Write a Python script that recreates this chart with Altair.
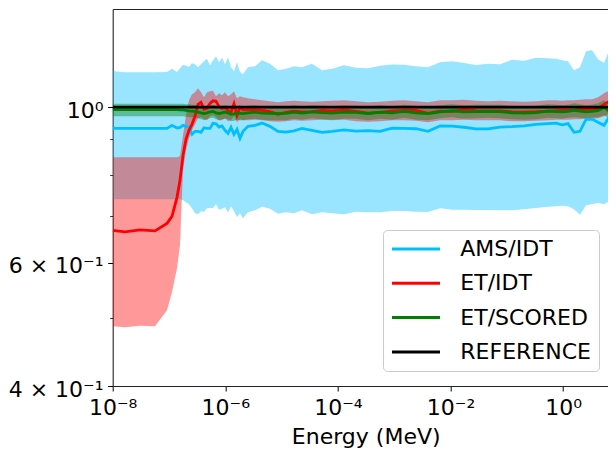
import altair as alt
import pandas as pd

FONT = "DejaVu Sans"

# Energy grid (MeV)
energy_mev = [1.00e-8, 1.654e-8, 3.054e-8, 5.64e-8, 9.21e-8, 1.130e-7, 1.387e-7,
              1.568e-7, 1.773e-7, 2.004e-7, 2.265e-7, 2.562e-7, 2.896e-7, 3.274e-7, 3.701e-7,
              4.184e-7, 4.732e-7, 5.348e-7, 6.046e-7, 6.836e-7, 7.729e-7, 8.738e-7, 9.879e-7,
              1.117e-6, 1.263e-6, 1.427e-6, 1.614e-6, 1.824e-6, 2.063e-6,
              2.530e-6, 3.370e-6, 4.486e-6, 6.223e-6, 8.631e-6, 1.197e-5, 1.661e-5, 2.304e-5,
              3.467e-5, 5.219e-5, 7.856e-5,
              1.283e-4, 2.097e-4, 3.424e-4, 5.596e-4, 9.140e-4, 1.493e-3, 2.439e-3, 3.984e-3,
              6.509e-3, 1.063e-2, 1.737e-2, 2.837e-2, 4.636e-2, 7.570e-2, 0.1237, 0.2020,
              0.3302, 0.5394,
              0.7480,
              0.956, 1.222, 1.562, 1.996, 2.551, 3.261, 4.168, 5.327, 6.808, 9.07]

# AMS/IDT
ams_idt = [0.9324, 0.9324, 0.9324, 0.9324, 0.9324, 0.9417, 0.9333,
           0.9355, 0.9417, 0.9386, 0.9364, 0.9142, 0.9233, 0.9233, 0.9203, 0.9340, 0.9324,
           0.9324, 0.9479, 0.9463, 0.9364, 0.9401, 0.9263, 0.9172, 0.9355, 0.9142, 0.9294,
           0.9023, 0.9233,
           0.9386, 0.9417, 0.9488, 0.9386, 0.9233, 0.9212, 0.9248, 0.9324,
           0.9263, 0.9203, 0.9233,
           0.9278, 0.9242, 0.9254, 0.9233, 0.9330, 0.9324, 0.9312, 0.9233, 0.9401, 0.9392,
           0.9358, 0.9309, 0.9309, 0.9364, 0.9377, 0.9401, 0.9448, 0.9469,
           0.9485,
           0.9432, 0.9469, 0.9203, 0.9233, 0.9604, 0.9613, 0.9510, 0.9417, 0.9731, 0.9263]
ams_idt_lo = [0.7385, 0.7385, 0.7385, 0.7385, 0.7385, 0.7385, 0.7385,
              0.7385, 0.7360, 0.7312, 0.7265, 0.7170, 0.7053, 0.7030, 0.7100, 0.7088, 0.7170,
              0.7181, 0.7170, 0.7265, 0.7139, 0.7162, 0.7193, 0.7076, 0.7217, 0.7100, 0.6968,
              0.7053, 0.6938,
              0.7076, 0.7123, 0.7205, 0.7158, 0.7041, 0.7076, 0.7053, 0.7123,
              0.7030, 0.7076, 0.7053,
              0.7030, 0.7088, 0.7076, 0.7076, 0.7107, 0.7107, 0.7088, 0.7083, 0.7170, 0.7134,
              0.7134, 0.7132, 0.7128, 0.7123, 0.7123, 0.7151, 0.7179, 0.7205,
              0.7221,
              0.7233, 0.7217, 0.7146, 0.7018, 0.7241, 0.7265, 0.7300, 0.7265, 0.7360, 0.6454]
ams_idt_hi = [1.1255, 1.1207, 1.1207, 1.1215, 1.1218, 1.1344, 1.1218,
              1.1356, 1.1487, 1.1449, 1.1412, 1.1543, 1.1506, 1.1393, 1.1506, 1.1620, 1.1723,
              1.1468, 1.1658, 1.1812, 1.1582, 1.1754, 1.1506, 1.1773, 1.1393, 1.1244, 1.1582,
              1.1218, 1.1134,
              1.1393, 1.1430, 1.1658, 1.1525, 1.1281, 1.1344, 1.1430, 1.1393,
              1.1525, 1.1281, 1.1344,
              1.1468, 1.1382, 1.1363, 1.1449, 1.1502, 1.1494, 1.1430, 1.1393, 1.1582, 1.1620,
              1.1555, 1.1483, 1.1525, 1.1513, 1.1677, 1.1639, 1.1754, 1.1735,
              1.1723,
              1.1658, 1.1620, 1.1281, 1.1393, 1.2008, 1.2047, 1.1696, 1.1555, 1.2126, 1.2519]

# ET/IDT
et_idt = [0.6670, 0.6637, 0.6681, 0.6659, 0.6825, 0.6984, 0.7433,
          0.7860, 0.8533, 0.8993, 0.9263, 0.9448, 0.9699, 1.0089, 1.0156, 0.9925, 0.9957,
          1.0122, 1.0206, 1.0189, 1.0023, 0.9957, 0.9990, 0.9892, 0.9827, 1.0106, 0.9731,
          0.9990, 0.9908,
          0.9908, 0.9908, 0.9892, 0.9850, 0.9763, 0.9827, 0.9866, 0.9844,
          0.9853, 0.9889, 0.9873,
          0.9905, 0.9860, 0.9802, 0.9827, 0.9876, 0.9892, 0.9892, 0.9795, 0.9869, 0.9860,
          0.9912, 0.9882, 0.9876, 0.9876, 0.9844, 0.9837, 0.9847, 0.9869,
          0.9882,
          0.9889, 0.9892, 0.9899, 0.9912, 0.9925, 0.9935, 0.9948, 1.0089, 1.0206, 0.9957]
et_idt_lo = [0.4866, 0.4850, 0.4874, 0.4866, 0.5128, 0.5441, 0.5887,
             0.6349, 0.8123, 0.8674, 0.9023, 0.9263, 0.9448, 0.9636, 0.9667, 0.9604, 0.9573,
             0.9699, 0.9731, 0.9667, 0.9573, 0.9573, 0.9636, 0.9541, 0.9573, 0.9699, 0.9510,
             0.9604, 0.9573,
             0.9573, 0.9588, 0.9573, 0.9541, 0.9525, 0.9541, 0.9573, 0.9557,
             0.9573, 0.9588, 0.9573,
             0.9588, 0.9541, 0.9525, 0.9541, 0.9573, 0.9573, 0.9557, 0.9510, 0.9573, 0.9573,
             0.9588, 0.9573, 0.9573, 0.9573, 0.9541, 0.9541, 0.9557, 0.9573,
             0.9588,
             0.9588, 0.9588, 0.9604, 0.9604, 0.9620, 0.9620, 0.9636, 0.9699, 0.9795, 0.9573]
et_idt_hi = [0.8477, 0.8477, 0.8477, 0.8477, 0.8477, 0.8477, 0.8477,
             0.8505, 0.9112, 0.9731, 1.0223, 1.0426, 1.0495, 1.0634, 1.0495, 1.0324, 1.0495,
             1.0529, 1.0547, 1.0358, 1.0460, 1.0392, 1.0495, 1.0358, 1.0426, 1.0529, 1.0290,
             1.0358, 1.0324,
             1.0290, 1.0256, 1.0223, 1.0189, 1.0156, 1.0189, 1.0206, 1.0189,
             1.0172, 1.0189, 1.0206,
             1.0223, 1.0189, 1.0156, 1.0172, 1.0206, 1.0223, 1.0189, 1.0156, 1.0223, 1.0223,
             1.0239, 1.0206, 1.0189, 1.0206, 1.0189, 1.0172, 1.0189, 1.0223,
             1.0223,
             1.0206, 1.0223, 1.0223, 1.0239, 1.0256, 1.0256, 1.0324, 1.0460, 1.0564, 1.0290]

# ET/SCORED
et_scored = [0.9915, 0.9915, 0.9915, 0.9915, 0.9915, 0.9915, 0.9915,
             0.9908, 0.9908, 0.9892, 0.9876, 0.9869, 0.9860, 0.9837, 0.9811, 0.9785, 0.9811,
             0.9844, 0.9860, 0.9811, 0.9785, 0.9811, 0.9837, 0.9811, 0.9763, 0.9779, 0.9805,
             0.9795, 0.9785,
             0.9811, 0.9837, 0.9802, 0.9795, 0.9785, 0.9795, 0.9837, 0.9805,
             0.9844, 0.9818, 0.9805,
             0.9837, 0.9827, 0.9789, 0.9837, 0.9808, 0.9860, 0.9811, 0.9785, 0.9844, 0.9879,
             0.9840, 0.9850, 0.9860, 0.9853, 0.9815, 0.9805, 0.9821, 0.9869,
             0.9853,
             0.9840, 0.9860, 0.9892, 0.9866, 0.9844, 0.9860, 0.9882, 0.9990, 0.9844, 0.9683]
et_scored_lo = [0.9699, 0.9699, 0.9699, 0.9699, 0.9699, 0.9699, 0.9699,
                0.9699, 0.9699, 0.9683, 0.9667, 0.9667, 0.9652, 0.9636, 0.9604, 0.9573, 0.9604,
                0.9636, 0.9652, 0.9604, 0.9573, 0.9604, 0.9620, 0.9604, 0.9541, 0.9557, 0.9588,
                0.9573, 0.9573,
                0.9604, 0.9620, 0.9588, 0.9573, 0.9573, 0.9573, 0.9620, 0.9588,
                0.9636, 0.9604, 0.9588,
                0.9620, 0.9620, 0.9573, 0.9620, 0.9588, 0.9652, 0.9588, 0.9573, 0.9636, 0.9667,
                0.9620, 0.9636, 0.9652, 0.9636, 0.9604, 0.9588, 0.9604, 0.9652,
                0.9636,
                0.9620, 0.9652, 0.9667, 0.9652, 0.9636, 0.9652, 0.9667, 0.9731, 0.9620, 0.9479]
et_scored_hi = [1.0106, 1.0106, 1.0106, 1.0106, 1.0106, 1.0106, 1.0106,
                1.0106, 1.0106, 1.0089, 1.0089, 1.0072, 1.0072, 1.0056, 1.0039, 1.0023, 1.0039,
                1.0056, 1.0072, 1.0039, 1.0007, 1.0039, 1.0056, 1.0039, 0.9990, 1.0007, 1.0023,
                1.0023, 1.0007,
                1.0039, 1.0056, 1.0023, 1.0023, 1.0007, 1.0023, 1.0056, 1.0023,
                1.0056, 1.0039, 1.0023,
                1.0056, 1.0039, 1.0007, 1.0056, 1.0023, 1.0072, 1.0039, 1.0007, 1.0056, 1.0089,
                1.0056, 1.0072, 1.0072, 1.0072, 1.0039, 1.0023, 1.0039, 1.0089,
                1.0072,
                1.0056, 1.0072, 1.0122, 1.0089, 1.0056, 1.0072, 1.0122, 1.0223, 1.0089, 0.9892]

# REFERENCE
reference_energy = [1.0e-8, 9.07]
reference = [1.0, 1.0]

series_names = ["AMS/IDT", "ET/IDT", "ET/SCORED", "REFERENCE"]
series_colors = ["#00BFFF", "#FF0000", "#008000", "#000000"]

band_df = pd.DataFrame({
    "energy": energy_mev,
    "ams_lo": ams_idt_lo, "ams_hi": ams_idt_hi,
    "et_lo": et_idt_lo, "et_hi": et_idt_hi,
    "sc_lo": et_scored_lo, "sc_hi": et_scored_hi,
})

n = len(energy_mev)
line_df = pd.DataFrame({
    "energy": energy_mev * 3 + reference_energy,
    "ratio": ams_idt + et_idt + et_scored + reference,
    "series": ["AMS/IDT"] * n + ["ET/IDT"] * n + ["ET/SCORED"] * n + ["REFERENCE"] * 2,
})

x_label_expr = ("datum.value < 1e-7 ? '10\u207b\u2078' : datum.value < 1e-5 ? '10\u207b\u2076' : "
                "datum.value < 1e-3 ? '10\u207b\u2074' : datum.value < 0.1 ? '10\u207b\u00b2' : '10\u2070'")
y_label_expr = ("datum.value > 0.9 ? '10\u2070' : datum.value > 0.5 ? '6 \u00d7 10\u207b\u00b9' : "
                "'4 \u00d7 10\u207b\u00b9'")

SPINE = "#222222"
x_scale = alt.Scale(type="log", domain=[1e-8, 6.27], nice=False)
y_scale = alt.Scale(type="log", domain=[0.4, 1.380], nice=False)

bottom_axis = alt.Axis(values=[1e-8, 1e-6, 1e-4, 1e-2, 1.0], labelExpr=x_label_expr, orient="bottom",
                       title="Energy (MeV)", titleFont=FONT, titleFontSize=22, titleFontWeight="normal",
                       titleColor="#000000", titleBaseline="alphabetic", titleY=57, titleX=253,
                       labelFont=FONT, labelFontSize=22, labelColor="#000000",
                       labelBaseline="alphabetic", labelPadding=23.6, labelFlush=False,
                       labelOverlap=False, tickSize=5, tickColor="#000000", tickWidth=1,
                       domain=True, domainColor=SPINE, domainWidth=1.1, grid=False)
top_axis = alt.Axis(orient="top", title=None, labels=False, ticks=False, domain=True,
                    domainColor=SPINE, domainWidth=1.1, grid=False)

major_y_axis = alt.Axis(values=[0.4, 0.6, 1.0], labelExpr=y_label_expr, orient="left",
                        title=None, labelFont=FONT, labelFontSize=22, labelColor="#000000",
                        labelBaseline="alphabetic", labelOffset=10, labelPadding=4.7,
                        labelAlign="right", labelOverlap=False, labelFlush=False,
                        tickSize=5, tickColor="#000000", tickWidth=1,
                        domain=True, domainColor=SPINE, domainWidth=1.1, grid=False)
minor_y_axis = alt.Axis(values=[0.5, 0.7, 0.8, 0.9], orient="left", title=None, labels=False,
                        tickSize=3, tickColor="#000000", tickWidth=0.8, domain=False, grid=False)


def band(lo, hi, color, xaxis, yaxis):
    return alt.Chart(band_df).mark_area(color=color, opacity=0.4, clip=True).encode(
        x=alt.X("energy:Q", scale=x_scale, axis=xaxis),
        y=alt.Y(f"{lo}:Q", scale=y_scale, axis=yaxis),
        y2=alt.Y2(f"{hi}:Q"),
    )


ams_band = band("ams_lo", "ams_hi", "#00BFFF", top_axis, minor_y_axis)
et_band = band("et_lo", "et_hi", "#FF0000", None, None)
sc_band = band("sc_lo", "sc_hi", "#008000", None, None)

lines = alt.Chart(line_df).mark_line(strokeWidth=2.8, clip=True).encode(
    x=alt.X("energy:Q", scale=x_scale, axis=bottom_axis),
    y=alt.Y("ratio:Q", scale=y_scale, axis=major_y_axis),
    color=alt.Color(
        "series:N",
        scale=alt.Scale(domain=series_names, range=series_colors),
        legend=alt.Legend(title=None, orient="none", legendX=270.3, legendY=221,
                          symbolType="M-2.53,0H2.53", symbolSize=361, symbolStrokeWidth=3,
                          symbolOffset=14,
                          labelFont=FONT, labelFontSize=22, labelColor="#000000",
                          labelExpr="datum.label + '\u00a0\u00a0'",
                          labelOffset=33.3, padding=8, rowPadding=12.3,
                          fillColor="rgba(255,255,255,0.8)", strokeColor="#cccccc",
                          cornerRadius=4, labelLimit=300),
    ),
)

chart = (
    alt.layer(ams_band, et_band, sc_band, lines)
    .resolve_axis(x="independent", y="independent")
    .properties(
        width=495.3, height=377,
        padding={"left": 104.7, "top": 1, "right": 0, "bottom": 65},
        autosize=alt.AutoSizeParams(type="none"),
    )
    .configure(font=FONT)
    .configure_view(stroke=None)
)

chart.save("out.html", embed_options={"renderer": "svg", "actions": False})
